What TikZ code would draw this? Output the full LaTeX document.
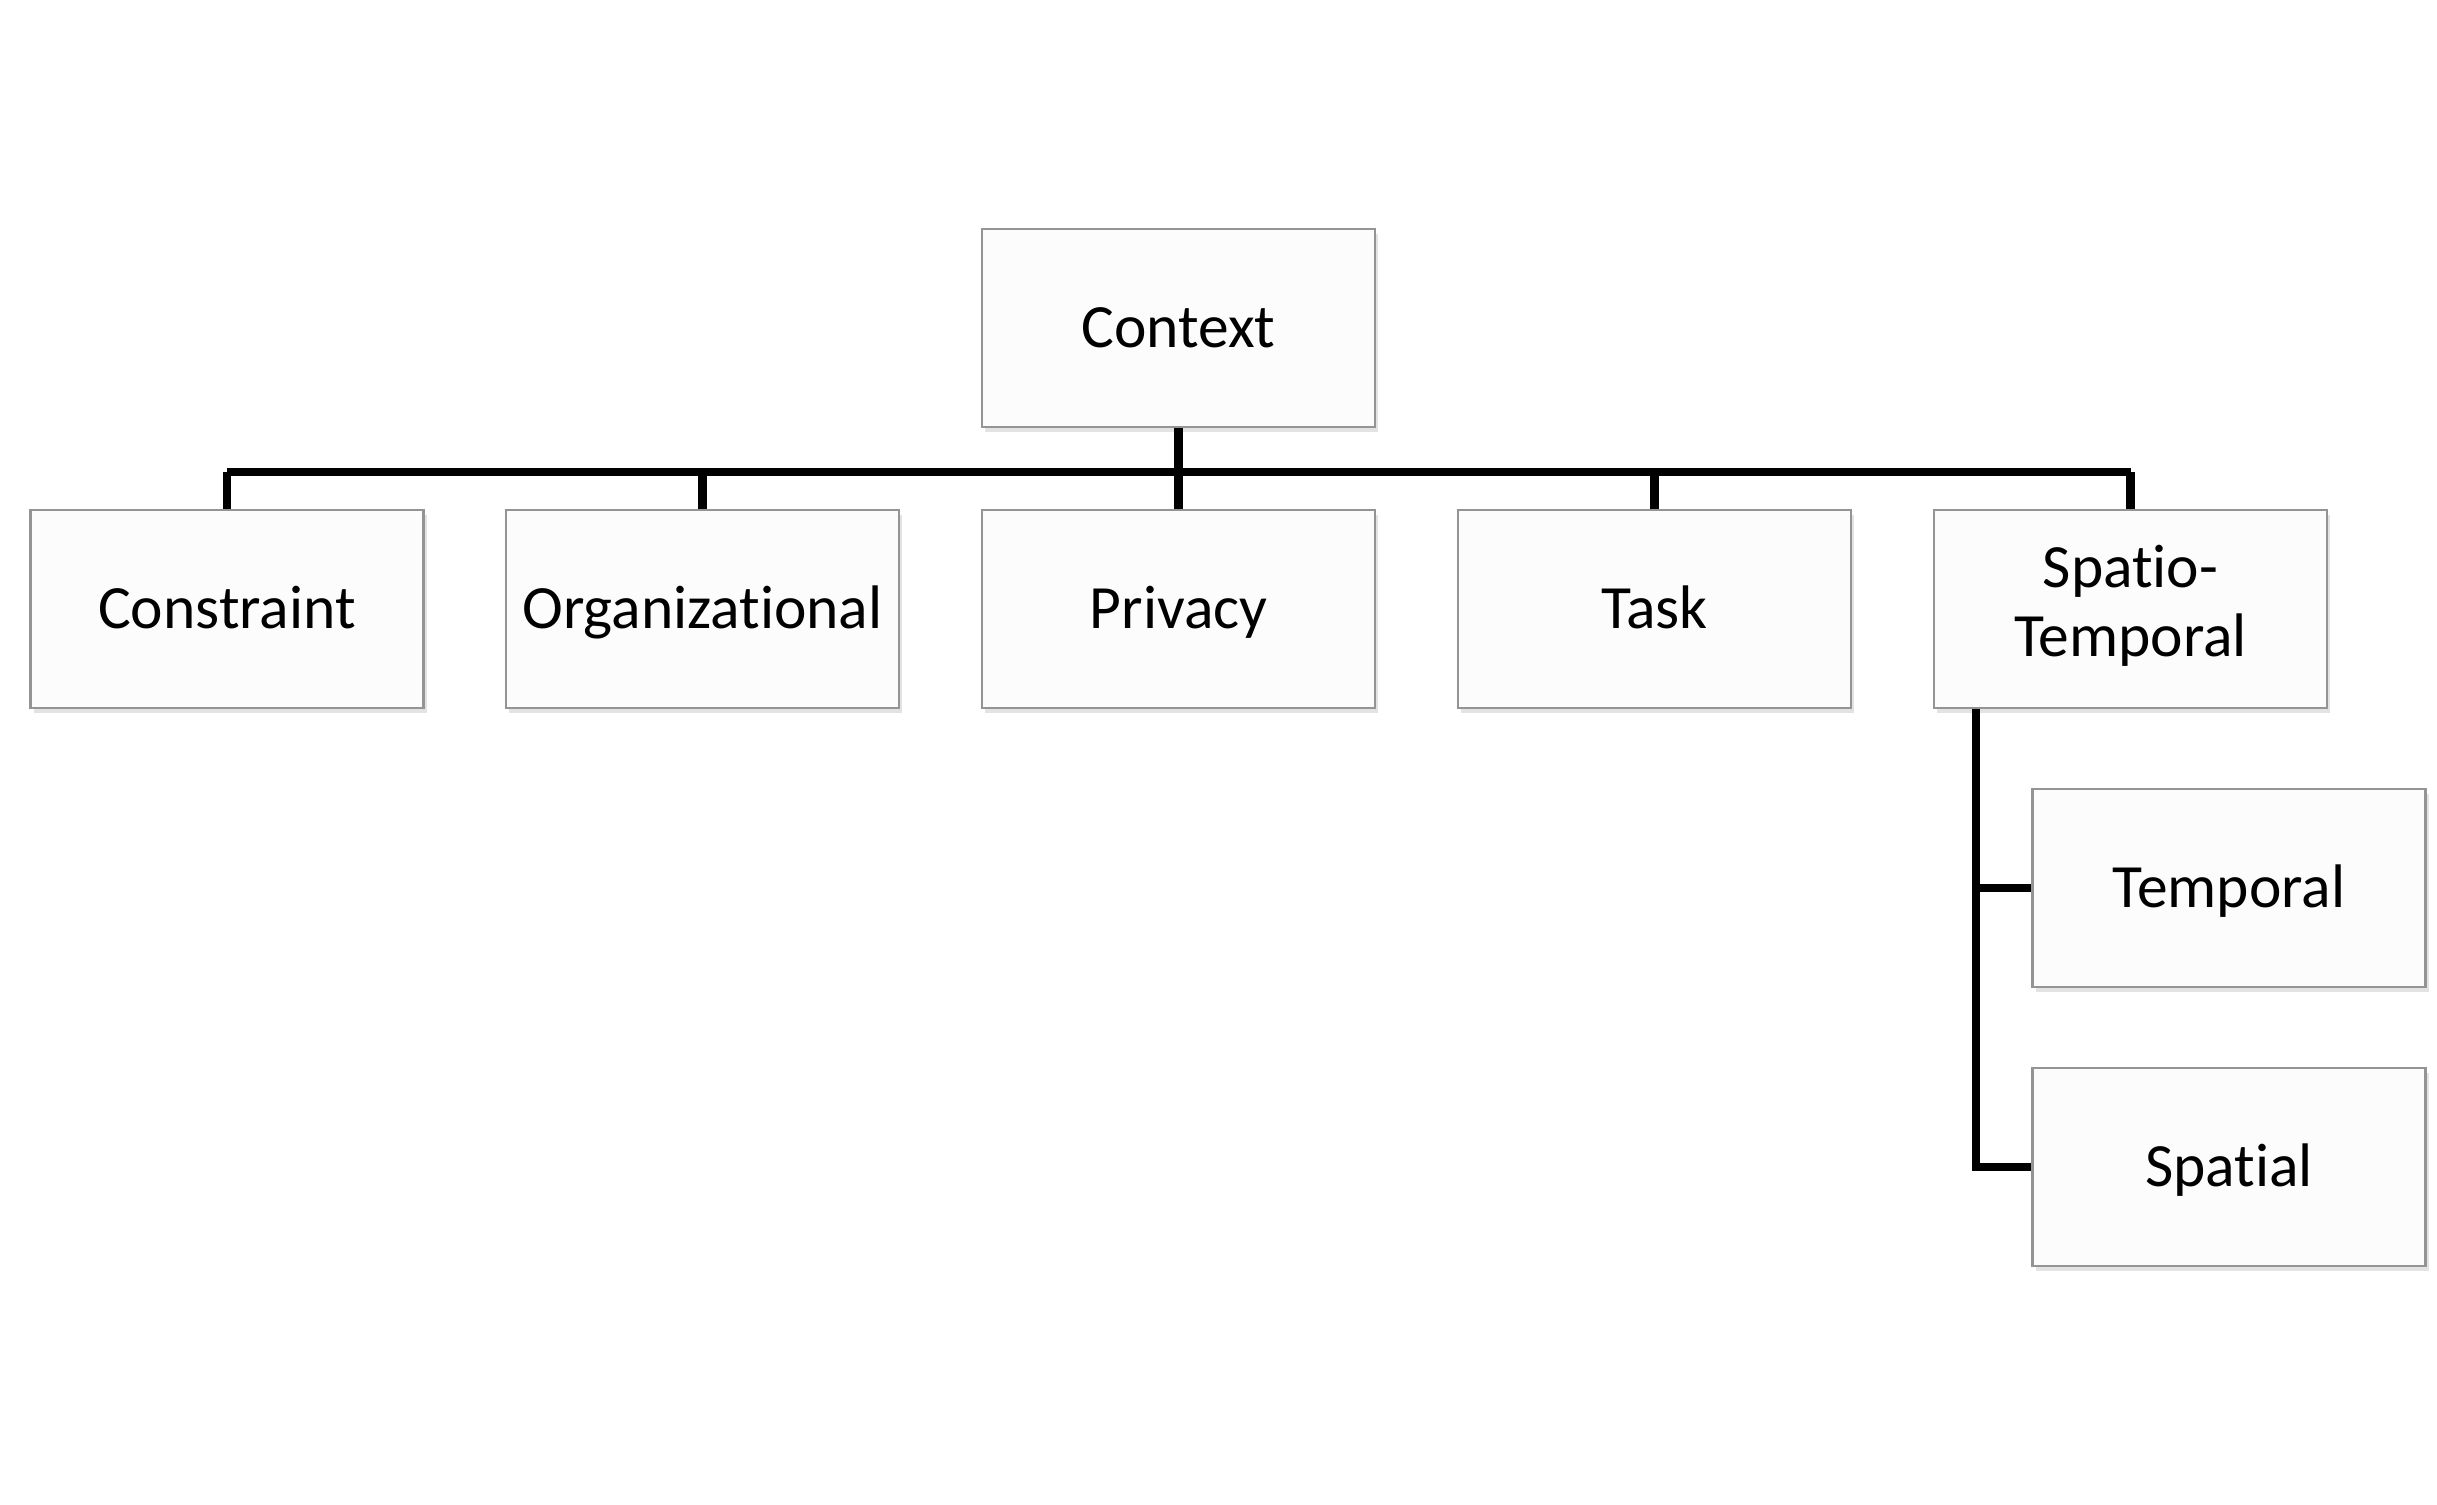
\documentclass[tikz,border=0pt]{standalone}
\usepackage{fontspec}
\setmainfont[Ligatures=NoCommon]{Carlito}
\usepackage{tikz}
\usetikzlibrary{calc, positioning, shadows}

\begin{document}
\begin{tikzpicture}[
		box/.style={draw=black!42, line width=0.8pt, fill=black!1, minimum width=3.93cm, minimum height=1.98cm, align=center, font=\fontsize{17.5}{19.6}\selectfont, execute at begin node=\rule{0pt}{15.6pt}, execute at end node=\rule[-4.4pt]{0pt}{0pt}, drop shadow={shadow xshift=0.03cm, shadow yshift=-0.05cm, opacity=0.22}},
		tree/.style={line width=2.3pt}]
		\useasboundingbox (0,0) rectangle (24.37,-15.04);

		\node[box] (ctx) at (11.785,-3.28) {Context};

		\node[box] (con) at (2.27,-6.09) {Constraint};
		\node[box] (org) at (7.025,-6.09) {Organizational};
		\node[box] (prv) at (11.785,-6.09) {Privacy};
		\node[box] (tsk) at (16.545,-6.09) {Task};
		\node[box] (spt) at (21.305,-6.09) {Spatio-\\Temporal};

		\node[box] (tmp) at (22.29,-8.88) {Temporal};
		\node[box] (spa) at (22.29,-11.67) {Spatial};

		\coordinate (bus) at (0,-4.72);
		\coordinate (spine) at ([xshift=0.43cm]spt.south west);

		\draw[tree] (ctx.south) -- (ctx.south |- bus);
		\draw[tree] (con.north |- bus) -- (spt.north |- bus);
		\foreach \n in {con,org,prv,tsk,spt}
		\draw[tree] (\n.north |- bus) -- (\n.north);

		\draw[tree] (spine) |- (spa.west);
		\draw[tree] (spine |- tmp.west) -- (tmp.west);

	\end{tikzpicture}
\end{document}
